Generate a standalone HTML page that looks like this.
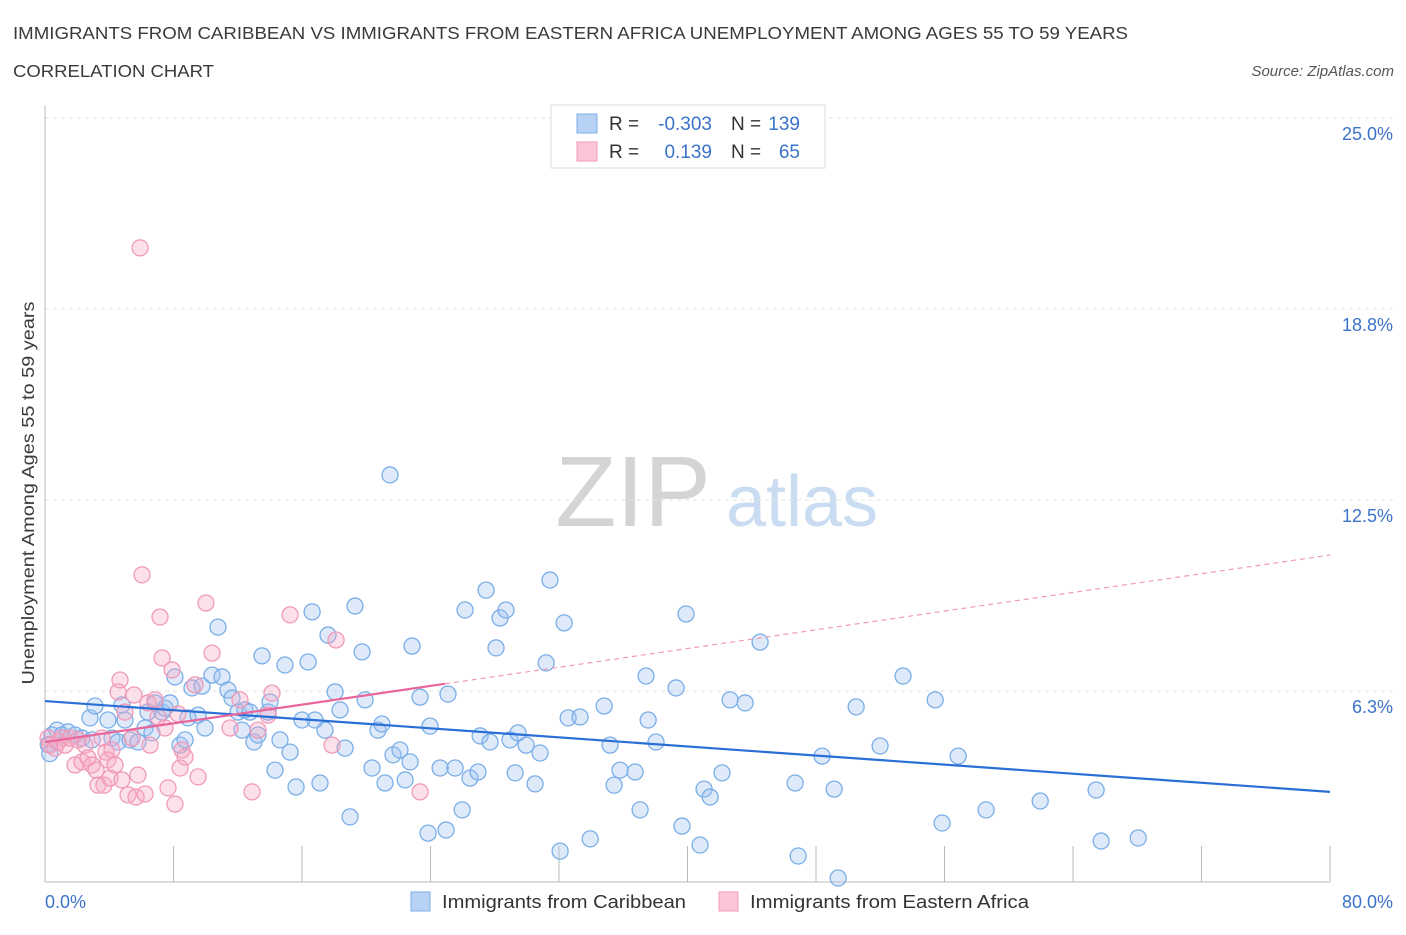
<!DOCTYPE html>
<html><head><meta charset="utf-8">
<style>
body{margin:0;background:#fff;font-family:"Liberation Sans",sans-serif;}
svg text{font-family:"Liberation Sans",sans-serif;}
</style></head>
<body>
<svg id="chart" width="1406" height="930" xmlns="http://www.w3.org/2000/svg">
<text x="13" y="39" font-size="17.5" fill="#3a3a3a" textLength="1115" lengthAdjust="spacingAndGlyphs">IMMIGRANTS FROM CARIBBEAN VS IMMIGRANTS FROM EASTERN AFRICA UNEMPLOYMENT AMONG AGES 55 TO 59 YEARS</text>
<text x="13" y="77" font-size="17.5" fill="#3a3a3a" textLength="201" lengthAdjust="spacingAndGlyphs">CORRELATION CHART</text>
<text x="1394" y="76" font-size="15" fill="#555" font-style="italic" text-anchor="end">Source: ZipAtlas.com</text>
<g>
<text x="633" y="526" font-size="100" fill="#d4d4d4" text-anchor="middle" font-family="Liberation Serif">ZIP</text>
<text x="802" y="526" font-size="72" fill="#c9dcf2" text-anchor="middle">atlas</text>
</g>
<g id="grid"></g>
<g id="axes"></g>
<g id="pts"></g>
<g id="trend"></g>
<text transform="translate(34,493) rotate(-90)" font-size="17.5" fill="#3a3a3a" text-anchor="middle" textLength="383" lengthAdjust="spacingAndGlyphs">Unemployment Among Ages 55 to 59 years</text>
<g>
<rect x="551" y="105" width="274" height="63" fill="#fff" stroke="#ddd"/>
<rect x="577" y="114" width="20" height="19" fill="#b8d2f5" stroke="#7aaee8"/>
<rect x="577" y="142" width="20" height="19" fill="#fbc6d6" stroke="#f09ab8"/>
<text x="609" y="130" font-size="19" fill="#333">R =</text>
<text x="712" y="130" font-size="19" fill="#3b73c9" text-anchor="end">-0.303</text>
<text x="731" y="130" font-size="19" fill="#333">N =</text>
<text x="800" y="130" font-size="19" fill="#3b73c9" text-anchor="end">139</text>
<text x="609" y="158" font-size="19" fill="#333">R =</text>
<text x="712" y="158" font-size="19" fill="#3b73c9" text-anchor="end">0.139</text>
<text x="731" y="158" font-size="19" fill="#333">N =</text>
<text x="800" y="158" font-size="19" fill="#3b73c9" text-anchor="end">65</text>
</g>
<g>
<rect x="411" y="892" width="19" height="19" fill="#b8d2f5" stroke="#7aaee8"/>
<text x="442" y="908" font-size="18.5" fill="#333" textLength="244" lengthAdjust="spacingAndGlyphs">Immigrants from Caribbean</text>
<rect x="719" y="892" width="19" height="19" fill="#fbc6d6" stroke="#f09ab8"/>
<text x="750" y="908" font-size="18.5" fill="#333" textLength="279" lengthAdjust="spacingAndGlyphs">Immigrants from Eastern Africa</text>
</g>
</svg>
<script>
const yTicks=[6.25,12.5,18.75,25];
const yTickLabels=["6.3%","12.5%","18.8%","25.0%"];
const xTicks=[0,8,16,24,32,40,48,56,64,72,80];
const blueX=[0.44,0.75,1.06,1.43,1.87,2.30,2.80,3.11,2.93,3.92,4.17,4.55,4.79,4.98,5.29,5.79,6.23,6.41,6.66,6.85,7.29,7.47,7.78,8.09,8.41,8.72,8.90,9.15,9.53,9.78,9.96,10.40,10.77,11.02,11.39,11.64,12.02,12.27,12.45,12.76,13.01,13.26,13.51,13.89,14.01,14.32,14.63,14.94,15.26,15.63,16.00,16.38,16.63,16.81,17.12,17.43,17.62,18.06,18.37,18.68,18.99,19.30,19.74,19.93,20.36,20.73,20.98,21.17,21.48,21.67,22.10,22.42,22.73,22.85,23.35,23.85,23.97,24.60,24.97,25.09,25.53,25.97,26.15,26.46,26.96,27.09,27.46,27.71,28.08,28.33,28.70,28.95,29.27,29.45,29.95,30.51,30.82,31.20,31.44,32.07,32.32,32.57,33.31,33.94,34.81,35.18,35.43,35.80,36.74,37.05,37.42,37.55,38.04,39.29,39.66,39.91,40.78,41.03,41.41,42.15,42.65,43.59,44.52,46.70,46.89,48.38,49.13,49.38,50.50,51.99,53.42,55.42,55.85,56.85,58.59,61.96,65.44,65.75,68.06,0.2,0.3];
const blueY=[4.81,4.97,4.81,4.91,4.81,4.71,5.37,5.76,4.65,5.30,4.71,4.58,5.79,5.30,4.65,4.58,5.04,5.56,4.88,5.86,5.56,5.69,5.86,6.71,4.48,4.65,5.37,6.35,5.46,6.41,5.04,6.77,8.34,6.71,6.28,6.02,5.56,4.97,5.63,5.56,4.58,4.81,7.40,5.56,5.89,3.66,4.65,7.10,4.25,3.11,5.30,7.20,8.84,5.30,3.24,4.97,8.08,6.22,5.63,4.38,2.13,9.03,7.53,5.96,3.73,4.97,5.17,3.24,13.32,4.16,4.32,3.34,3.93,7.72,6.05,1.60,5.10,3.73,1.70,6.15,3.73,2.36,8.90,3.40,3.60,4.78,9.55,4.58,7.66,8.64,8.90,4.65,3.57,4.88,4.48,3.21,4.22,7.17,9.88,1.01,8.48,5.37,5.40,1.41,5.76,4.48,3.17,3.66,3.60,2.36,6.74,5.30,4.58,6.35,1.83,8.77,1.21,3.04,2.78,3.57,5.96,5.86,7.85,3.24,0.85,4.12,3.04,0.13,5.73,4.45,6.74,5.96,1.93,4.12,2.36,2.65,3.01,1.34,1.44,4.5,4.2];
const pinkX=[0.19,0.31,0.62,0.81,1.06,1.25,1.56,1.87,2.05,2.30,2.49,2.68,2.93,3.18,3.30,3.55,3.67,3.80,3.92,4.05,4.17,4.36,4.55,4.67,4.79,4.98,5.17,5.42,5.54,5.67,5.79,5.92,6.04,6.23,6.41,6.54,6.85,7.04,7.16,7.29,7.47,7.66,7.91,8.09,8.28,8.41,8.53,8.72,9.34,9.53,10.02,10.40,11.52,12.89,13.26,13.89,14.13,15.26,17.87,18.12,23.35,12.14];
const pinkY=[4.71,4.48,4.38,4.58,4.71,4.48,4.71,3.83,4.65,3.93,4.48,4.06,3.83,3.66,3.17,4.71,3.17,4.25,3.99,3.40,4.32,3.83,6.22,6.61,3.34,5.56,2.85,4.71,6.12,2.78,3.50,20.75,10.05,2.88,5.86,4.48,5.96,5.40,8.67,7.33,5.04,3.08,6.94,2.55,5.50,3.73,4.32,4.09,6.45,3.44,9.13,7.49,5.04,2.95,4.97,5.46,6.18,8.74,4.48,7.92,2.95,5.96];
const blueTrend=[5.92,2.95];
const pinkTrend=[4.58,10.70];
const pinkSolidEnd=24.9;
const NS="http://www.w3.org/2000/svg";
const X0=45,X1=1330,Y0=882,Y1=118,XMAX=80,YMAX=25;
const sx=v=>X0+(X1-X0)*v/XMAX;
const sy=v=>Y0-(Y0-Y1)*v/YMAX;
function mk(tag,attrs,parent){const e=document.createElementNS(NS,tag);for(const k in attrs)e.setAttribute(k,attrs[k]);parent.appendChild(e);return e;}
const grid=document.getElementById('grid'),axes=document.getElementById('axes'),pts=document.getElementById('pts'),trend=document.getElementById('trend');
yTicks.forEach((t,i)=>{
 const l=mk('line',{x1:X0,x2:1394,y1:sy(t),y2:sy(t),stroke:'#e2e2e2','stroke-dasharray':'4,4'},grid);
 
 
 const tx=mk('text',{x:1393,y:sy(t)+22,'font-size':18,fill:'#3b73c9','text-anchor':'end'},axes);
 tx.textContent=yTickLabels[i];
 
 
});
const ax=mk('line',{x1:X0,x2:X1,y1:Y0,y2:Y0,stroke:'#bbb'},axes);


const ay=mk('line',{x1:X0,x2:X0,y1:105,y2:Y0,stroke:'#bbb'},axes);


xTicks.forEach(t=>{
 const l=mk('line',{x1:sx(t),x2:sx(t),y1:Y0,y2:Y0-36,stroke:'#bbb'},axes);
 
 
});
const xl0=mk('text',{x:45,y:908,'font-size':18,fill:'#3b73c9'},axes);xl0.textContent='0.0%';


const xl1=mk('text',{x:1393,y:908,'font-size':18,fill:'#3b73c9','text-anchor':'end'},axes);xl1.textContent='80.0%';


blueX.forEach((v,i)=>{
 const c=mk('circle',{cx:sx(v),cy:sy(blueY[i]),r:8,fill:'rgba(160,195,240,0.35)',stroke:'#7aaee8','stroke-width':1.3},pts);
 
 
});
pinkX.forEach((v,i)=>{
 const c=mk('circle',{cx:sx(v),cy:sy(pinkY[i]),r:8,fill:'rgba(245,170,195,0.35)',stroke:'#f09ab8','stroke-width':1.3},pts);
 
 
});
const bl=mk('line',{x1:sx(0),y1:sy(blueTrend[0]),x2:sx(80),y2:sy(blueTrend[1]),stroke:'#2a6fd6','stroke-width':2.2},trend);


const pAt=x=>pinkTrend[0]+(pinkTrend[1]-pinkTrend[0])*x/80;
const pd=mk('line',{x1:sx(pinkSolidEnd),y1:sy(pAt(pinkSolidEnd)),x2:sx(80),y2:sy(pinkTrend[1]),stroke:'#f09ab8','stroke-width':1.2,'stroke-dasharray':'5,4'},trend);


const ps=mk('line',{x1:sx(0),y1:sy(pinkTrend[0]),x2:sx(pinkSolidEnd),y2:sy(pAt(pinkSolidEnd)),stroke:'#e8669a','stroke-width':2.2},trend);


</script>
</body></html>
